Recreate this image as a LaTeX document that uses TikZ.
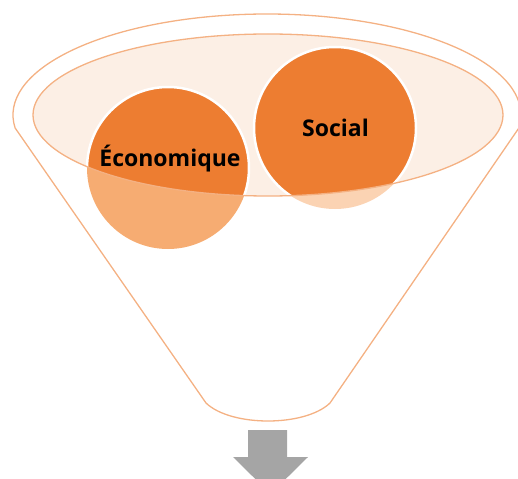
\documentclass[tikz,border=0pt]{standalone}
\usepackage{fontspec}
\setmainfont{Open Sans}
\definecolor{orangemain}{HTML}{ED7D31}
\definecolor{orangeline}{HTML}{F4B183}
\definecolor{creamfill}{HTML}{FCEFE5}
\definecolor{ecolow}{HTML}{F6AC72}
\definecolor{soclow}{HTML}{FBD3B3}
\definecolor{arrowgray}{HTML}{A5A5A5}
\tikzset{
  funnelline/.style={draw=orangeline, line width=1.3pt},
  label/.style={font=\bfseries\fontsize{23}{23}\selectfont, text=black, inner sep=0pt},
}
\begin{document}
\begin{tikzpicture}[x=1pt,y=-1pt]
\useasboundingbox (0,0) rectangle (518,478);
\clip (0,0) rectangle (518,478);
% funnel outline
\draw[funnelline, line join=round]
  (267,115) ++(172.6:254 and 101) arc[start angle=172.6, end angle=367.4, x radius=254, y radius=101]
  -- (330,403) .. controls (305,427) and (231,427) .. (206,403) -- cycle;
% inner ellipse fill
\fill[creamfill] (268,115) ellipse[x radius=235, y radius=81];
% circles, lighter part
\fill[ecolow] (168,168) circle[radius=81];
\fill[soclow] (335,128) circle[radius=81];
% circles inside ellipse
\begin{scope}
  \clip (268,115) ellipse[x radius=235, y radius=81];
  \fill[orangemain, draw=white, line width=2.5pt] (168,168) circle[radius=81];
  \fill[orangemain, draw=white, line width=2.5pt] (335,128) circle[radius=81];
\end{scope}
\draw[orangeline, line width=1.3pt] (268,115) ellipse[x radius=235, y radius=81];
\node[label, anchor=base] (eco) at (170,167) {Économique};
\node[label, anchor=base] (soc) at (335.5,137) {Social};
% arrow
\fill[arrowgray] (248,430) -- (287,430) -- (287,457) -- (308,457) -- (270.5,494) -- (233,457) -- (248,457) -- cycle;
\end{tikzpicture}
\end{document}
